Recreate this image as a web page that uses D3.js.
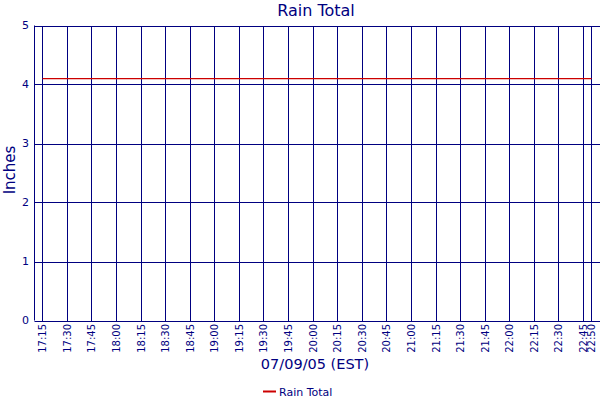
<!DOCTYPE html>
<html>
<head>
<meta charset="utf-8">
<script src="https://cdn.jsdelivr.net/npm/d3@7"></script>
<style>
  body { margin: 0; background: #fff; }
  text { font-family: "DejaVu Sans", Verdana, sans-serif; fill: #000080; }
</style>
</head>
<body>
<script>
// Rain total chart

const times = ["17:15","17:30","17:45","18:00","18:15","18:30","18:45","19:00",
  "19:15","19:30","19:45","20:00","20:15","20:30","20:45","21:00","21:15",
  "21:30","21:45","22:00","22:15","22:30","22:45","22:50"];
const rain = [4.1,4.1,4.1,4.1,4.1,4.1,4.1,4.1,4.1,4.1,4.1,4.1,
  4.1,4.1,4.1,4.1,4.1,4.1,4.1,4.1,4.1,4.1,4.1,4.1];
const yTicks = [0, 1, 2, 3, 4, 5];

const navy = "#000080";
const W = 600, H = 400;
const plotLeft = 34.5, plotTop = 25.5, plotBottom = 320.5, plotRight = 599;

const parse = d3.timeParse("%H:%M");
const dates = times.map(parse);
const pad = 4.75 * 60000;

const x = d3.scaleTime()
  .domain([+dates[0] - pad, +dates[dates.length - 1] + pad])
  .range([plotLeft, plotRight]);
const y = d3.scaleLinear().domain([0, 5]).range([plotBottom, plotTop]);

const svg = d3.select("body").append("svg")
  .attr("width", W)
  .attr("height", H);

// horizontal grid
svg.append("g")
  .selectAll("line")
  .data(yTicks)
  .join("line")
    .attr("x1", plotLeft).attr("x2", W)
    .attr("y1", d => Math.round(y(d)) + 0.5)
    .attr("y2", d => Math.round(y(d)) + 0.5)
    .attr("stroke", navy);

// vertical grid
svg.append("g")
  .selectAll("line")
  .data(dates)
  .join("line")
    .attr("x1", d => Math.round(x(d)) + 0.5)
    .attr("x2", d => Math.round(x(d)) + 0.5)
    .attr("y1", Math.round(plotTop) + 0.5).attr("y2", Math.round(plotBottom) + 0.5)
    .attr("stroke", navy);

// left axis line
svg.append("line")
  .attr("x1", plotLeft).attr("x2", plotLeft)
  .attr("y1", plotTop).attr("y2", plotBottom)
  .attr("stroke", navy);

// y tick labels
svg.append("g")
  .selectAll("text")
  .data(yTicks)
  .join("text")
    .attr("x", 29)
    .attr("y", d => y(d))
    .attr("dy", "0.35em")
    .attr("text-anchor", "end")
    .style("font-size", "11px")
    .text(d => d);

// x tick labels
svg.append("g")
  .selectAll("text")
  .data(dates)
  .join("text")
    .attr("transform", d => `translate(${Math.round(x(d)) + 0.5},324) rotate(-90)`)
    .attr("dy", "0.35em")
    .attr("text-anchor", "end")
    .style("font-size", "10px")
    .text((d, i) => times[i]);

// series line
const line = d3.line()
  .x(d => Math.round(x(d[0])) + 0.5)
  .y(d => y(d[1]));

svg.append("path")
  .datum(dates.map((d, i) => [d, rain[i]]))
  .attr("fill", "none")
  .attr("stroke", "#cc0000")
  .attr("stroke-width", 1.3)
  .attr("d", line);

// titles
svg.append("text")
  .attr("x", 316).attr("y", 16)
  .attr("text-anchor", "middle")
  .style("font-size", "16px")
  .text("Rain Total");

svg.append("text")
  .attr("transform", "translate(15,170) rotate(-90)")
  .attr("text-anchor", "middle")
  .style("font-size", "15px")
  .text("Inches");

svg.append("text")
  .attr("x", 315).attr("y", 369)
  .attr("text-anchor", "middle")
  .style("font-size", "14.5px")
  .text("07/09/05 (EST)");

// legend
svg.append("line")
  .attr("x1", 263).attr("x2", 276)
  .attr("y1", 391.5).attr("y2", 391.5)
  .attr("stroke", "#cc0000")
  .attr("stroke-width", 2);

svg.append("text")
  .attr("x", 279).attr("y", 395.5)
  .style("font-size", "11px")
  .text("Rain Total");
</script>
</body>
</html>
